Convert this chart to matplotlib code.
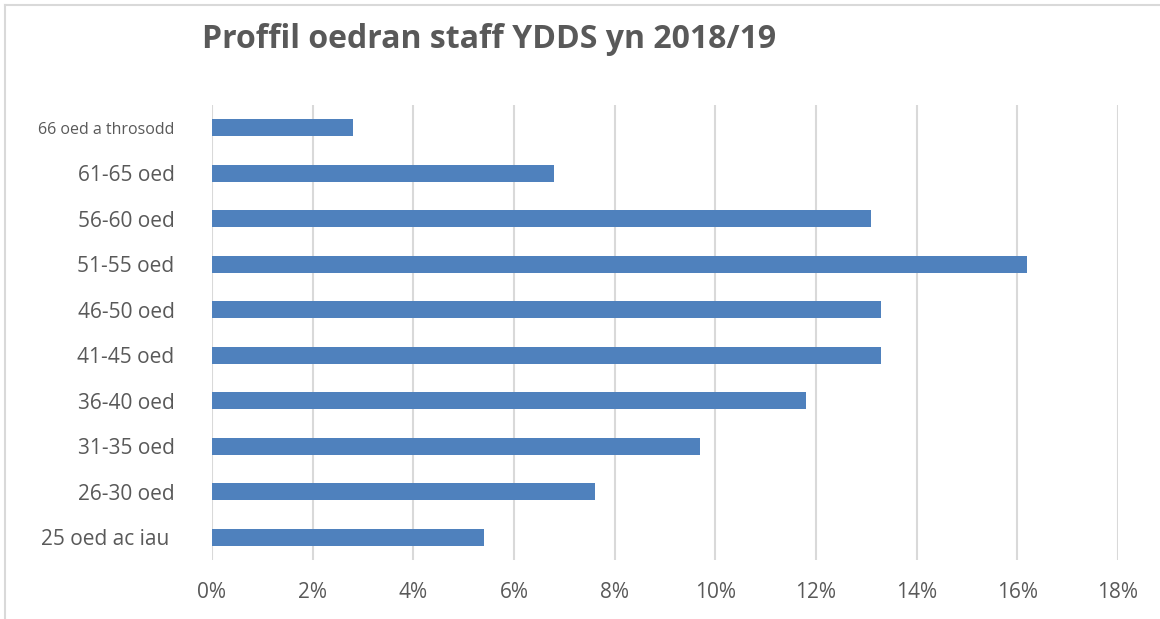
import matplotlib.pyplot as plt
from matplotlib.lines import Line2D

categories = ['25 oed ac iau ', '26-30 oed', '31-35 oed', '36-40 oed', '41-45 oed',
              '46-50 oed', '51-55 oed', '56-60 oed', '61-65 oed', '66 oed a throsodd']
values = [5.4, 7.6, 9.7, 11.8, 13.3, 13.3, 16.2, 13.1, 6.8, 2.8]
xticks = [0, 2, 4, 6, 8, 10, 12, 14, 16, 18]

text_color = '#595959'
plt.rcParams['font.family'] = ['Open Sans', 'DejaVu Sans']

fig = plt.figure(figsize=(11.6, 6.19), dpi=100)
ax = fig.add_axes([212 / 1160, 1 - 560 / 619, 906 / 1160, 455 / 619])

ax.barh(range(len(categories)), values, height=0.37, color='#4f81bd', zorder=3)

ax.set_xlim(0, 18)
ax.set_ylim(-0.5, len(categories) - 0.5)
ax.set_xticks(xticks)
ax.set_xticklabels([f'{t}%' for t in xticks], fontsize=15, color=text_color)
ax.set_yticks(range(len(categories)))
ax.set_yticklabels(categories, fontsize=15, color=text_color)
ax.get_yticklabels()[-1].set_fontsize(11.5)
ax.tick_params(axis='both', length=0)
ax.tick_params(axis='y', pad=27)
ax.tick_params(axis='x', pad=16)
ax.grid(axis='x', color='#d9d9d9', linewidth=1.5, zorder=0)
for s in ax.spines.values():
    s.set_visible(False)

fig.text(489 / 1160, 1 - 40 / 619, 'Proffil oedran staff YDDS yn 2018/19', fontsize=23,
         fontweight='bold', color=text_color, ha='center', va='center')

# outer chart frame (only top and left edges visible)
fig.add_artist(Line2D([5 / 1160, 5 / 1160], [0, 1 - 5 / 619], color='#d9d9d9', linewidth=1.5,
                      transform=fig.transFigure))
fig.add_artist(Line2D([5 / 1160, 1], [1 - 5 / 619, 1 - 5 / 619], color='#d9d9d9', linewidth=1.5,
                      transform=fig.transFigure))

fig.savefig('out.png', dpi=100, facecolor='white')
